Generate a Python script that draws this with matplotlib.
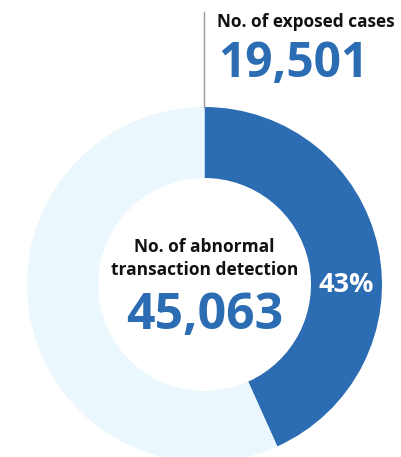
import matplotlib.pyplot as plt

# data
exposed = 19501
detected = 45063
labels = ['exposed', 'other']
values = [exposed, detected - exposed]
colors = ['#2b6cb3', '#eaf7fd']

W, H = 402, 457
fig = plt.figure(figsize=(W / 100, H / 100), dpi=100)
ax = fig.add_axes([0, 0, 1, 1])

cx, cy = 204.5, H - 284.5
r_out, r_in = 177.5, 106.5

ax.pie(values, colors=colors, startangle=90, counterclock=False,
       radius=r_out, center=(cx, cy),
       wedgeprops=dict(width=r_out - r_in, linewidth=0))

ax.set_xlim(0, W)
ax.set_ylim(0, H)
ax.set_aspect('equal')
ax.axis('off')

font = 'Open Sans'
blue = '#2b6cb3'

# leader line to top label
ax.plot([cx, cx], [cy + r_out, H - 12], color='#9a9a9a', lw=1)

ax.text(217, H - 22, 'No. of exposed cases', fontsize=12.4, fontweight='bold',
        family=font, color='#111111', ha='left', va='center')
ax.text(218, H - 64, f'{exposed:,}', fontsize=34.5, fontweight='bold',
        family=font, color=blue, ha='left', va='center')

# centre text
ax.text(cx, H - 247, 'No. of abnormal', fontsize=12.5, fontweight='bold',
        family=font, color='#111111', ha='center', va='center')
ax.text(cx, H - 270, 'transaction detection', fontsize=12.5, fontweight='bold',
        family=font, color='#111111', ha='center', va='center')
ax.text(cx, H - 316, f'{detected:,}', fontsize=36, fontweight='bold',
        family=font, color=blue, ha='center', va='center')

pct = round(100 * exposed / detected)
ax.text(cx + (r_out + r_in) / 2, cy, f'{pct}%', fontsize=19.5, fontweight='bold',
        family=font, color='white', ha='center', va='center')

fig.savefig('out.png', dpi=100)
